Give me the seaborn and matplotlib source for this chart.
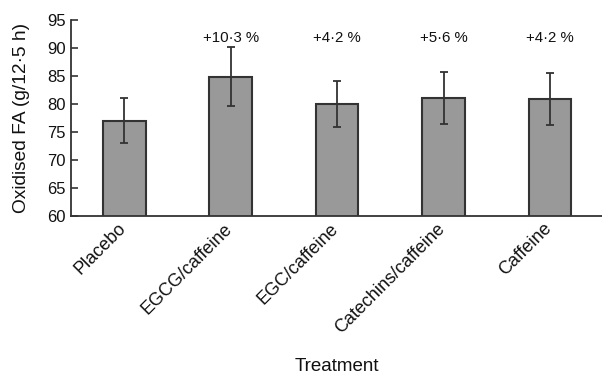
import matplotlib
matplotlib.use("Agg")
import matplotlib.pyplot as plt
import matplotlib.transforms as mtransforms
import seaborn as sns
import pandas as pd
import numpy as np
from matplotlib.ticker import FixedLocator

categories = ["Placebo", "EGCG/caffeine", "EGC/caffeine", "Catechins/caffeine", "Caffeine"]
values = [77.0, 84.9, 80.0, 81.1, 80.9]
errors = [4.0, 5.2, 4.1, 4.6, 4.6]
annotations = ["", "+10·3 %", "+4·2 %", "+5·6 %", "+4·2 %"]
yticks = [60, 65, 70, 75, 80, 85, 90, 95]

sns.set_style("white")
plt.rcParams['font.family'] = ['Liberation Sans', 'DejaVu Sans']
TXT = "#111111"

df = pd.DataFrame({"Treatment": categories, "FA": values})

fig = plt.figure(figsize=(6.02, 3.76), dpi=100)
ax = fig.add_axes([0.118, 0.4255, 0.884, 0.5215])

sns.barplot(data=df, x="Treatment", y="FA", color="#999999", width=0.4,
            edgecolor="#333333", linewidth=1.5, saturation=1, ax=ax, errorbar=None)
ax.errorbar(x=np.arange(len(categories)), y=values, yerr=errors, fmt="none",
            ecolor="#333333", elinewidth=1.3, capsize=3, capthick=1.3)

for i, t in enumerate(annotations):
    if t:
        ax.text(i, 91.7, t, ha="center", va="center", fontsize=10.8, color=TXT)

ax.set_ylim(60, 95)
ax.set_xlim(-0.5, len(categories) - 0.5)
ax.set_yticks(yticks)
ax.set_yticklabels([str(v) for v in yticks], fontsize=12, color=TXT)
ax.set_xticks(range(len(categories)))
ax.set_xticklabels(categories, rotation=45, ha="right", va="top",
                   rotation_mode="anchor", fontsize=13, color=TXT)
ax.xaxis.set_minor_locator(FixedLocator(np.arange(0.5, len(categories), 1.0)))
ax.tick_params(axis="x", which="major", length=0, pad=3)
ax.tick_params(axis="x", which="minor", direction="in", length=3, width=1.2, color="#333333")
ax.tick_params(axis="y", direction="in", length=5, width=1.2, color="#333333", left=True, pad=4)

for s in ["top", "right"]:
    ax.spines[s].set_visible(False)
for s in ["left", "bottom"]:
    ax.spines[s].set_color("#333333")
    ax.spines[s].set_linewidth(1.3)

ax.set_ylabel("Oxidised FA (g/12·5 h)", fontsize=13.8, labelpad=4, color=TXT)
ax.set_xlabel("Treatment", fontsize=13.5, color=TXT)
ax.xaxis.set_label_coords(0.5, -0.725)
ax.yaxis.set_label_coords(-0.077, 0.5)

fig.canvas.draw()
# move tick labels so their ends sit at the tick (as in the reference)
off = mtransforms.ScaledTranslation(-7 / 100, 0, fig.dpi_scale_trans)
for lab in ax.get_xticklabels():
    lab.set_transform(lab.get_transform() + off)

fig.savefig("out.png", dpi=100)
